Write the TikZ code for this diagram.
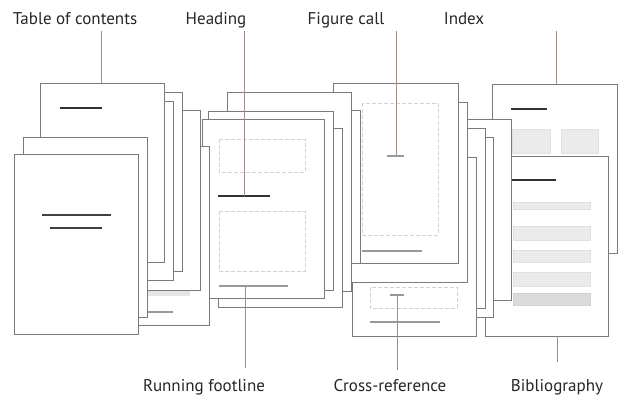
\documentclass[tikz,border=0pt]{standalone}
\usepackage{graphicx}
\usepackage{fontspec}
\newfontfamily\labfont{PT Sans}
\newcommand{\lab}[1]{\scalebox{1.0}[1]{#1}}
\tikzset{
  pagebox/.style={draw=black!52, fill=white, line width=0.75pt},
  darkdash/.style={draw=black!80, line width=1.6pt},
  bigdash/.style={draw=black!75, line width=2.8pt},
  greyline/.style={draw=black!40, line width=1.1pt},
  dashbox/.style={draw=black!18, line width=0.7pt, dash pattern=on 4pt off 2pt},
  greybox/.style={fill=black!8, draw=black!12, line width=0.5pt},
  leader/.style={draw={rgb,255:red,165;green,140;blue,135}, line width=0.6pt},
  label/.style={font=\labfont\fontsize{17}{20}\selectfont, text=black!85, inner sep=0pt, anchor=base}
}
\begin{document}
\begin{tikzpicture}[x=1pt,y=-1pt]
\useasboundingbox (0,0) rectangle (623,406);
% ---- Index / Bibliography group ----
\draw[pagebox] (492,84) rectangle (617,253);
\draw[darkdash] (511,109) -- (547,109);
\draw[greybox] (512,129) rectangle (550,153);
\draw[greybox] (561,129) rectangle (598,153);
\draw[pagebox] (485,156) rectangle (608,336);
\draw[darkdash] (510,180) -- (556,180);
\draw[greybox] (513,202) rectangle (590,209);
\draw[greybox] (513,226) rectangle (590,240);
\draw[greybox] (513,250) rectangle (590,262);
\draw[greybox] (513,272) rectangle (590,286);
\draw[fill=black!14, draw=black!18, line width=0.5pt] (513,293) rectangle (590,305);
\draw[pagebox] (430,119) rectangle (511,300);
\draw[pagebox] (445,137) rectangle (493,317);
\draw[pagebox] (440,128) rectangle (485,308);
% ---- Cross-reference / Figure group ----
\draw[pagebox] (352,157) rectangle (476,336);
\draw[dashbox] (370,287) rectangle (457,308);
\draw[greyline] (390,295) -- (404,295);
\draw[greyline] (370,322) -- (440,322);
\draw[pagebox] (345,102) rectangle (467,282);
\draw[pagebox] (333,83) rectangle (458,263);
\draw[dashbox] (362,103) rectangle (438,235);
\draw[greyline] (362,251) -- (422,251);
\draw[greyline] (387,156) -- (404,156);
% ---- Heading group ----
\draw[pagebox] (250,110) rectangle (360,263);
\draw[pagebox] (227,92) rectangle (351,291);
\draw[pagebox] (218,128) rectangle (342,307);
\draw[pagebox] (208,111) rectangle (333,290);
\draw[pagebox] (202,119) rectangle (324,298);
\draw[dashbox] (219,139) rectangle (305,172);
\draw[darkdash] (218,196) -- (270,196);
\draw[dashbox] (219,211) rectangle (305,271);
\draw[greyline] (219,286) -- (288,286);
% ---- Table of contents group ----
\draw[pagebox] (85,146) rectangle (209,325);
\draw[fill=black!10, draw=none] (147,291) rectangle (190,296);
\draw[greyline] (147,312) -- (173,312);
\draw[pagebox] (76,110) rectangle (200,290);
\draw[pagebox] (58,92) rectangle (182,271);
\draw[pagebox] (50,101) rectangle (173,280);
\draw[pagebox] (40,83) rectangle (164,262);
\draw[darkdash] (60,108) -- (102,108);
\draw[pagebox] (23,137) rectangle (147,317);
\draw[pagebox] (14,154) rectangle (138,334);
\draw[bigdash] (42,215) -- (111,215);
\draw[bigdash] (50,228) -- (102,228);
% ---- labels ----
\node[label] (toc) at (75,25) {\lab{Table of contents}};
\node[label] (head) at (216,25) {\lab{Heading}};
\node[label] (fig) at (346,25) {\lab{Figure call}};
\node[label] (idx) at (464,25) {\lab{Index}};
\node[label] (foot) at (204,391) {\lab{Running footline}};
\node[label] (xref) at (390,391) {\lab{Cross-reference}};
\node[label] (bib) at (557,391) {\lab{Bibliography}};
% ---- leader coordinates ----
\coordinate (tocA) at (101,31);  \coordinate (tocB) at (101,83);
\coordinate (headA) at (244,31); \coordinate (headB) at (244,196);
\coordinate (figA) at (396,31);  \coordinate (figB) at (396,156);
\coordinate (idxA) at (556,31);  \coordinate (idxB) at (556,84);
\coordinate (footA) at (245,286); \coordinate (footB) at (245,368);
\coordinate (xrefA) at (397,295); \coordinate (xrefB) at (397,370);
\coordinate (bibA) at (557,336); \coordinate (bibB) at (557,362);
\draw[leader] (tocA) -- (tocB);
\draw[leader] (headA) -- (headB);
\draw[leader] (figA) -- (figB);
\draw[leader] (idxA) -- (idxB);
\draw[leader] (footA) -- (footB);
\draw[leader] (xrefA) -- (xrefB);
\draw[leader] (bibA) -- (bibB);
\end{tikzpicture}
\end{document}
